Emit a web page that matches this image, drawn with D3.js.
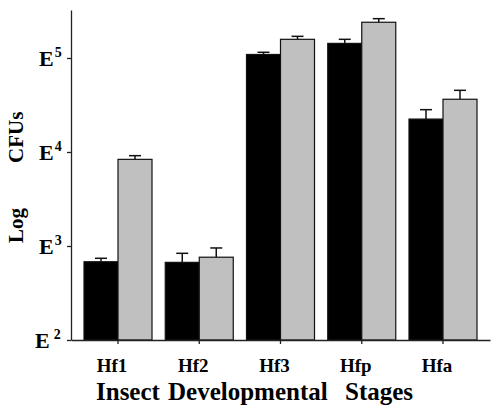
<!DOCTYPE html>
<html><head><meta charset="utf-8">
<script src="https://cdn.jsdelivr.net/npm/d3@7"></script>
<style>html,body{margin:0;padding:0;background:#fff;}svg{display:block;}</style>
</head><body>
<svg id="chart" width="498" height="418"></svg>
<script>
const categories = ["Hf1", "Hf2", "Hf3", "Hfp", "Hfa"];
const blackValues = [680, 670, 109000, 143000, 22400];
const blackErrors = [60, 166, 6000, 15000, 5800];
const greyValues = [8350, 760, 158000, 240000, 36400];
const greyErrors = [790, 193, 12000, 22000, 8900];
const yTicks = [100, 1000, 10000, 100000];
const yTickExps = ["2", "3", "4", "5"];
const xTitleWords = ["Insect", "Developmental", "Stages"];
const yTitleWords = ["Log", "CFUs"];

const svg = d3.select("#chart");
const font = "'Liberation Serif','Times New Roman',serif";
const mLeft = 71, mRight = 490, mTop = 10, mBottom = 340;

const x = d3.scaleBand().domain(categories).range([mLeft, mRight]).paddingInner(0.163).paddingOuter(0.16);
const sub = d3.scaleBand().domain([0, 1]).range([0, x.bandwidth()]);
const y = d3.scaleLog().domain([100, 3.24e5]).range([mBottom, mTop]);

const series = [
  {vals: blackValues, errs: blackErrors, fill: "#000000"},
  {vals: greyValues, errs: greyErrors, fill: "#c0c0c0"}
];

// bars
series.forEach((s, si) => {
  const g = svg.append("g");
  g.selectAll("rect").data(categories).enter().append("rect")
    .attr("x", d => x(d) + sub(si))
    .attr("y", (d, i) => y(s.vals[i]))
    .attr("width", sub.bandwidth())
    .attr("height", (d, i) => mBottom - y(s.vals[i]))
    .attr("fill", s.fill).attr("stroke", "#111").attr("stroke-width", 1.2);
  g.selectAll("line.err").data(categories).enter().append("line").attr("class", "err")
    .attr("x1", d => x(d) + sub(si) + sub.bandwidth() / 2)
    .attr("x2", d => x(d) + sub(si) + sub.bandwidth() / 2)
    .attr("y1", (d, i) => y(s.vals[i]))
    .attr("y2", (d, i) => y(s.vals[i] + s.errs[i]))
    .attr("stroke", "#111").attr("stroke-width", 1.5);
  g.selectAll("line.cap").data(categories).enter().append("line").attr("class", "cap")
    .attr("x1", d => x(d) + sub(si) + sub.bandwidth() / 2 - 6)
    .attr("x2", d => x(d) + sub(si) + sub.bandwidth() / 2 + 6)
    .attr("y1", (d, i) => y(s.vals[i] + s.errs[i]))
    .attr("y2", (d, i) => y(s.vals[i] + s.errs[i]))
    .attr("stroke", "#111").attr("stroke-width", 1.5);
});

// y axis
const yAxis = d3.axisLeft(y).tickValues(yTicks).tickFormat("").tickSize(4).tickSizeOuter(0);
const ga = svg.append("g").attr("transform", `translate(${mLeft},0)`).call(yAxis);
ga.select(".domain").attr("stroke", "#222").attr("stroke-width", 1.3);
ga.selectAll(".tick line").attr("stroke", "#222").attr("stroke-width", 1.3);

yTicks.forEach((t, i) => {
  const txt = svg.append("text")
    .attr("x", i === 0 ? 35 : 39).attr("y", y(t) + 8)
    .attr("font-family", font).attr("font-weight", "bold").attr("font-size", 22).attr("fill", "#000");
  txt.append("tspan").text("E");
  txt.append("tspan").attr("dx", i === 0 ? 4 : 1).attr("dy", -9).attr("font-size", 14).text(yTickExps[i]);
});

// x axis
const xAxis = d3.axisBottom(x).tickFormat("").tickSize(4).tickSizeOuter(0);
const gb = svg.append("g").attr("transform", `translate(0,${mBottom})`).call(xAxis);
gb.select(".domain").attr("stroke", "#222").attr("stroke-width", 1.3);
gb.selectAll(".tick line").attr("stroke", "#222").attr("stroke-width", 1.3);

svg.append("g").selectAll("text").data(categories).enter().append("text")
  .attr("x", d => x(d) + x.bandwidth() / 2 - 6).attr("y", 372)
  .attr("text-anchor", "middle")
  .attr("font-family", font).attr("font-weight", "bold").attr("font-size", 19).attr("fill", "#000")
  .text(d => d);

// x title
const xTitleX = [96, 168, 345];
svg.append("text").attr("y", 400)
  .attr("font-family", font).attr("font-weight", "bold").attr("font-size", 25).attr("fill", "#000")
  .selectAll("tspan").data(xTitleWords).enter().append("tspan")
  .attr("x", (d, i) => xTitleX[i]).text(d => d);

// y title
const yTitlePos = [243, 163];
yTitleWords.forEach((w, i) => {
  svg.append("text")
    .attr("transform", `translate(23,${yTitlePos[i]}) rotate(-90)`)
    .attr("font-family", font).attr("font-weight", "bold").attr("font-size", 21).attr("fill", "#000")
    .text(w);
});
</script>
</body></html>
